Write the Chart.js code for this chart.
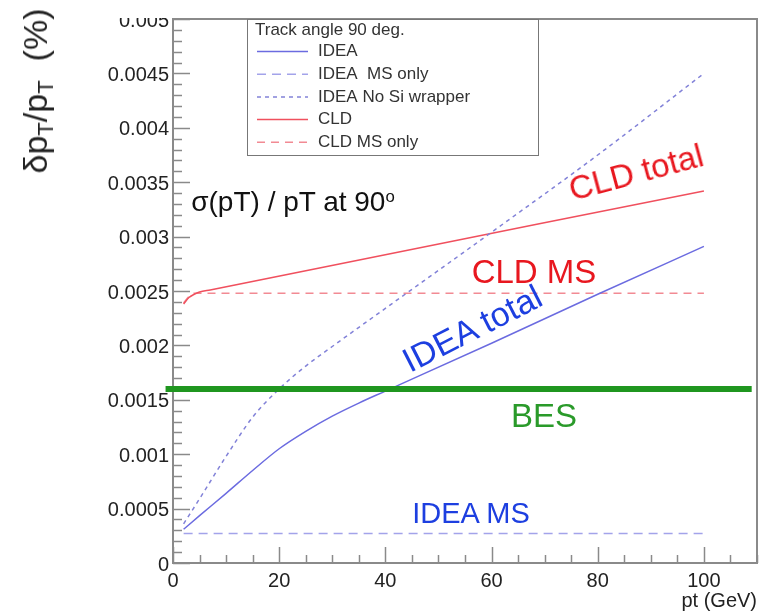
<!DOCTYPE html>
<html>
<head>
<meta charset="utf-8">
<title>pT resolution at 90 deg</title>
<script src="https://cdn.jsdelivr.net/npm/chart.js@4.4.1/dist/chart.umd.min.js"></script>
<style>
  html, body { margin: 0; padding: 0; background: #fff; }
  body {
    width: 769px; height: 615px; position: relative; overflow: hidden;
    font-family: Arial, "Liberation Sans", sans-serif;
  }
  #wrap { position: absolute; left: 0; top: 18px; width: 769px; height: 597px; }
  .note {
    position: absolute; white-space: nowrap; line-height: 1;
    transform: translate(-50%, -50%);
  }
  .note sub { font-size: 0.65em; vertical-align: -0.25em; line-height: 0; }
  .note sup { font-size: 0.6em; vertical-align: 0.55em; line-height: 0; }
  #ytitle { left: 35px; top: 91px; font-size: 34px; color: #222; transform: translate(-50%, -50%) rotate(-90deg); }
  #headline { left: 293px; top: 202px; font-size: 28px; color: #111; }
  #cldTotal { left: 636px; top: 172px; font-size: 33px; color: #e8171f; transform: translate(-50%, -50%) rotate(-15deg); }
  #cldMs { left: 534px; top: 271px; font-size: 33px; color: #e8171f; }
  #ideaTotal { left: 472px; top: 328px; font-size: 34px; color: #1d3fe0; transform: translate(-50%, -50%) rotate(-27deg); }
  #bes { left: 544px; top: 415px; font-size: 33px; color: #2a9a2a; }
  #ideaMs { left: 471px; top: 513px; font-size: 29px; color: #1d3fe0; }
</style>
</head>
<body>
<div id="wrap"><canvas id="resChart" width="769" height="597"></canvas></div>

<div class="note" id="ytitle">δp<sub>T</sub>/p<sub>T</sub>&nbsp; (%)</div>
<div class="note" id="headline">σ(pT) / pT at 90<sup>o</sup></div>
<div class="note" id="cldTotal">CLD total</div>
<div class="note" id="cldMs">CLD MS</div>
<div class="note" id="ideaTotal">IDEA total</div>
<div class="note" id="bes">BES</div>
<div class="note" id="ideaMs">IDEA MS</div>

<script>
// resolution curves, pt in GeV
const ideaPt = [2, 5, 10, 15, 20, 25, 30, 35, 40, 60, 80, 100];
const ideaTotal = [0.00031, 0.000435, 0.00064, 0.00085, 0.00105, 0.00121, 0.00135, 0.00147, 0.00158, 0.00202, 0.00247, 0.00291];

const ideaMsPt = [2, 100];
const ideaMsOnly = [0.00027, 0.00027];

const noSiPt = [2, 5, 10, 15, 20, 25, 30, 40, 60, 80, 100];
const ideaNoSi = [0.00036, 0.00059, 0.00098, 0.00134, 0.0016, 0.00181, 0.00199, 0.00234, 0.00304, 0.00375, 0.0045];

const cldPt = [2, 3, 4, 5, 7, 100];
const cldTotal = [0.00238, 0.00244, 0.00247, 0.00249, 0.00251, 0.00342];

const cldMsPt = [2, 3, 4, 100];
const cldMsOnly = [0.00239, 0.00245, 0.00248, 0.00248];

// BES reference level, drawn as a thick band across the whole frame
const besPt = [-1.4, 109];
const besLevel = [0.0016, 0.0016];

const xTickValues = [0, 20, 40, 60, 80, 100];
const yTickValues = [0, 0.0005, 0.001, 0.0015, 0.002, 0.0025, 0.003, 0.0035, 0.004, 0.0045, 0.005];
const legendTitle = 'Track angle 90 deg.';

const frameColor = '#8a8a8a';
const fontFamily = 'Arial, "Liberation Sans", sans-serif';

Chart.defaults.font.family = fontFamily;

function toPoints(xs, ys) {
  return xs.map((x, i) => ({ x, y: ys[i] }));
}

function segment(ctx, x1, y1, x2, y2) {
  ctx.beginPath();
  ctx.moveTo(x1, y1);
  ctx.lineTo(x2, y2);
  ctx.stroke();
}

// ROOT-like frame: box around the pad with inward ticks
const frameTicks = {
  id: 'frameTicks',
  beforeDatasetsDraw(chart) {
    const { ctx, chartArea: a, scales } = chart;
    ctx.save();
    ctx.strokeStyle = frameColor;
    ctx.lineWidth = 1.5;
    for (let v = 0; v <= 110; v += 5) {
      const px = Math.round(scales.x.getPixelForValue(v)) + 0.5;
      segment(ctx, px, a.bottom, px, a.bottom - (v % 20 === 0 ? 16 : 8));
    }
    for (let i = 0; i <= 50; i++) {
      const py = Math.round(scales.y.getPixelForValue(i * 0.0001)) + 0.5;
      segment(ctx, a.left, py, a.left + (i % 5 === 0 ? 17 : 9), py);
    }
    ctx.lineWidth = 2;
    ctx.strokeRect(a.left, a.top, a.right - a.left, a.bottom - a.top);
    ctx.restore();
  }
};

// boxed legend in the top left corner of the pad
const boxLegend = {
  id: 'boxLegend',
  afterDatasetsDraw(chart) {
    const { ctx } = chart;
    const box = { left: 247, top: 1, right: 538, bottom: 137 };
    ctx.save();
    ctx.fillStyle = '#fff';
    ctx.fillRect(box.left, box.top, box.right - box.left, box.bottom - box.top);
    ctx.strokeStyle = '#777';
    ctx.lineWidth = 1;
    ctx.strokeRect(box.left + 0.5, box.top + 0.5, box.right - box.left, box.bottom - box.top);

    ctx.font = '17px ' + fontFamily;
    ctx.fillStyle = '#333';
    ctx.textBaseline = 'middle';
    ctx.fillText(legendTitle, 255, 12);

    chart.data.datasets.filter(d => d.label).forEach((d, i) => {
      const yy = 33.5 + i * 22.7;
      ctx.strokeStyle = d.borderColor;
      ctx.lineWidth = d.borderWidth;
      ctx.setLineDash(d.borderDash || []);
      segment(ctx, 257, yy, 308, yy);
      ctx.setLineDash([]);
      ctx.fillText(d.label, 318, yy);
    });
    ctx.restore();
  }
};

const curve = {
  pointRadius: 0,
  borderWidth: 1.5,
  cubicInterpolationMode: 'monotone',
  fill: false
};

new Chart(document.getElementById('resChart'), {
  type: 'line',
  data: {
    datasets: [
      { data: toPoints(besPt, besLevel), borderColor: '#1f961f', borderWidth: 6, pointRadius: 0, clip: false },
      { ...curve, label: 'IDEA', data: toPoints(ideaPt, ideaTotal), borderColor: '#6b6be0' },
      { ...curve, label: 'IDEA  MS only', data: toPoints(ideaMsPt, ideaMsOnly), borderColor: '#a3a3ea', borderDash: [9, 6] },
      { ...curve, label: 'IDEA No Si wrapper', data: toPoints(noSiPt, ideaNoSi), borderColor: '#8282d8', borderDash: [4, 4] },
      { ...curve, label: 'CLD', data: toPoints(cldPt, cldTotal), borderColor: '#f0505e' },
      { ...curve, label: 'CLD MS only', data: toPoints(cldMsPt, cldMsOnly), borderColor: '#f28a93', borderDash: [8, 6] }
    ]
  },
  options: {
    responsive: false,
    animation: false,
    layout: { padding: { left: 0, right: 12, top: 1, bottom: 0 } },
    plugins: {
      legend: { display: false },
      tooltip: { enabled: false }
    },
    scales: {
      x: {
        type: 'linear',
        min: 0,
        max: 110,
        afterBuildTicks: s => { s.ticks = xTickValues.map(v => ({ value: v })); },
        afterFit: s => { s.height = 52; s.paddingLeft = 0; s.paddingRight = 0; },
        grid: { display: false, drawTicks: false },
        border: { display: false },
        ticks: { color: '#222', font: { size: 20 }, padding: 6, maxRotation: 0, autoSkip: false },
        title: {
          display: true,
          text: 'pt (GeV)',
          align: 'end',
          color: '#222',
          font: { size: 20 },
          padding: { top: 0, bottom: 2 }
        }
      },
      y: {
        type: 'linear',
        min: 0,
        max: 0.005,
        afterBuildTicks: s => { s.ticks = yTickValues.map(v => ({ value: v })); },
        afterFit: s => { s.width = 173; s.paddingTop = 0; s.paddingBottom = 0; },
        grid: { display: false, drawTicks: false },
        border: { display: false },
        ticks: {
          color: '#222',
          font: { size: 20 },
          padding: 4,
          labelOffset: 2,
          autoSkip: false,
          callback: v => String(+v.toFixed(4))
        }
      }
    }
  },
  plugins: [frameTicks, boxLegend]
});
</script>
</body>
</html>
